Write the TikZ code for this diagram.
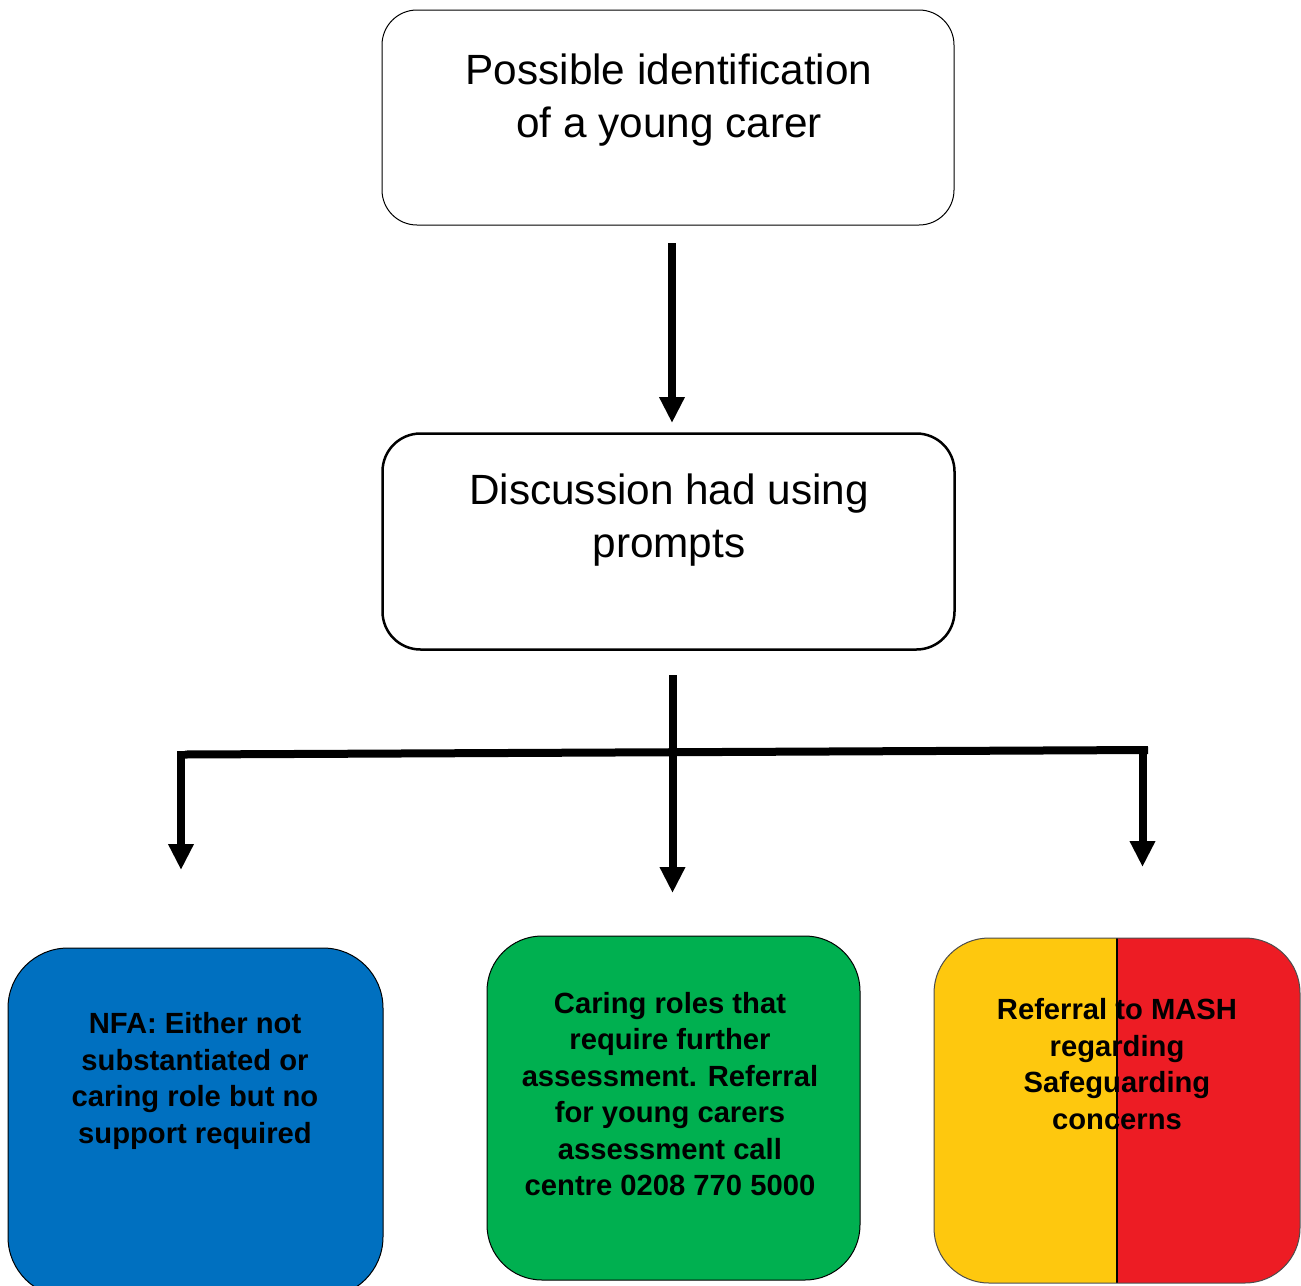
\documentclass[tikz,border=0pt]{standalone}
\usepackage{fontspec}
\setmainfont{Liberation Sans}
\usetikzlibrary{arrows.meta}
\definecolor{nfablue}{HTML}{0070C0}
\definecolor{caregreen}{HTML}{00B050}
\definecolor{mashyellow}{HTML}{FEC80E}
\definecolor{mashred}{HTML}{ED1C24}
\begin{document}
\begin{tikzpicture}[x=1pt,y=-1pt,
  box/.style={draw=black, line width=1pt, rounded corners=35pt, inner sep=0pt},
  lbl/.style={align=center, inner sep=0pt, font=\fontsize{42.3}{53}\selectfont},
  blbl/.style={align=center, inner sep=0pt, font=\bfseries\fontsize{29.2}{36.5}\selectfont},
  conn/.style={line width=8pt},
  arr/.style={conn, -{Triangle[width=24pt,length=26pt]}}]
\useasboundingbox (0,0) rectangle (1301,1285);

% top box
\node[box, minimum width=572pt, minimum height=215pt] (top) at (668,117.5) {};
\node[lbl] (toptext) at (669,100) {Possible identification\\of a young carer};

% middle box
\node[box, line width=2.5pt, rounded corners=38pt, minimum width=572pt, minimum height=216pt] (mid) at (668.5,541.5) {};
\node[lbl] (midtext) at (669,520) {Discussion had using\\prompts};

% bottom boxes
\node[box, fill=nfablue, rounded corners=60pt, minimum width=375pt, minimum height=349pt] (nfa) at (195.5,1122.5) {};
\node[blbl] (nfatext) at (195,1081) {NFA: Either not\\substantiated or\\caring role but no\\support required};

\node[box, fill=caregreen, rounded corners=55pt, minimum width=373pt, minimum height=344pt] (care) at (673.5,1108) {};
\node[blbl] (caretext) at (670,1094) {Caring roles that\\require further\\assessment. Referral\\for young carers\\assessment call\\centre 0208 770 5000};

\node[box, draw=black!70, rounded corners=55pt, minimum width=366pt, minimum height=345pt,
  path picture={
    \fill[mashyellow, sharp corners] (path picture bounding box.north west) rectangle (path picture bounding box.south);
    \fill[mashred, sharp corners] (path picture bounding box.north) rectangle (path picture bounding box.south east);
    \draw[draw=black, line width=1.5pt, sharp corners] (path picture bounding box.north) -- (path picture bounding box.south);
  }] (mash) at (1117,1110.5) {};
\node[blbl] (mashtext) at (1117,1064) {Referral to MASH\\regarding\\Safeguarding\\concerns};

% connectors
\coordinate (a1s) at (672,243);
\coordinate (a1e) at (672,423);
\draw[arr] (a1s) -- (a1e);

\coordinate (a2s) at (672.5,675);
\coordinate (a2e) at (672.5,893);
\coordinate (hl) at (185,754.5);
\coordinate (hr) at (1148,750);
\coordinate (l1s) at (181,751);
\coordinate (l1e) at (181,870);
\coordinate (r1s) at (1142.5,746);
\coordinate (r1e) at (1142.5,867);
\draw[conn] (hl) -- (hr);
\draw[arr] (a2s) -- (a2e);
\draw[arr] (l1s) -- (l1e);
\draw[arr] (r1s) -- (r1e);
\end{tikzpicture}
\end{document}
